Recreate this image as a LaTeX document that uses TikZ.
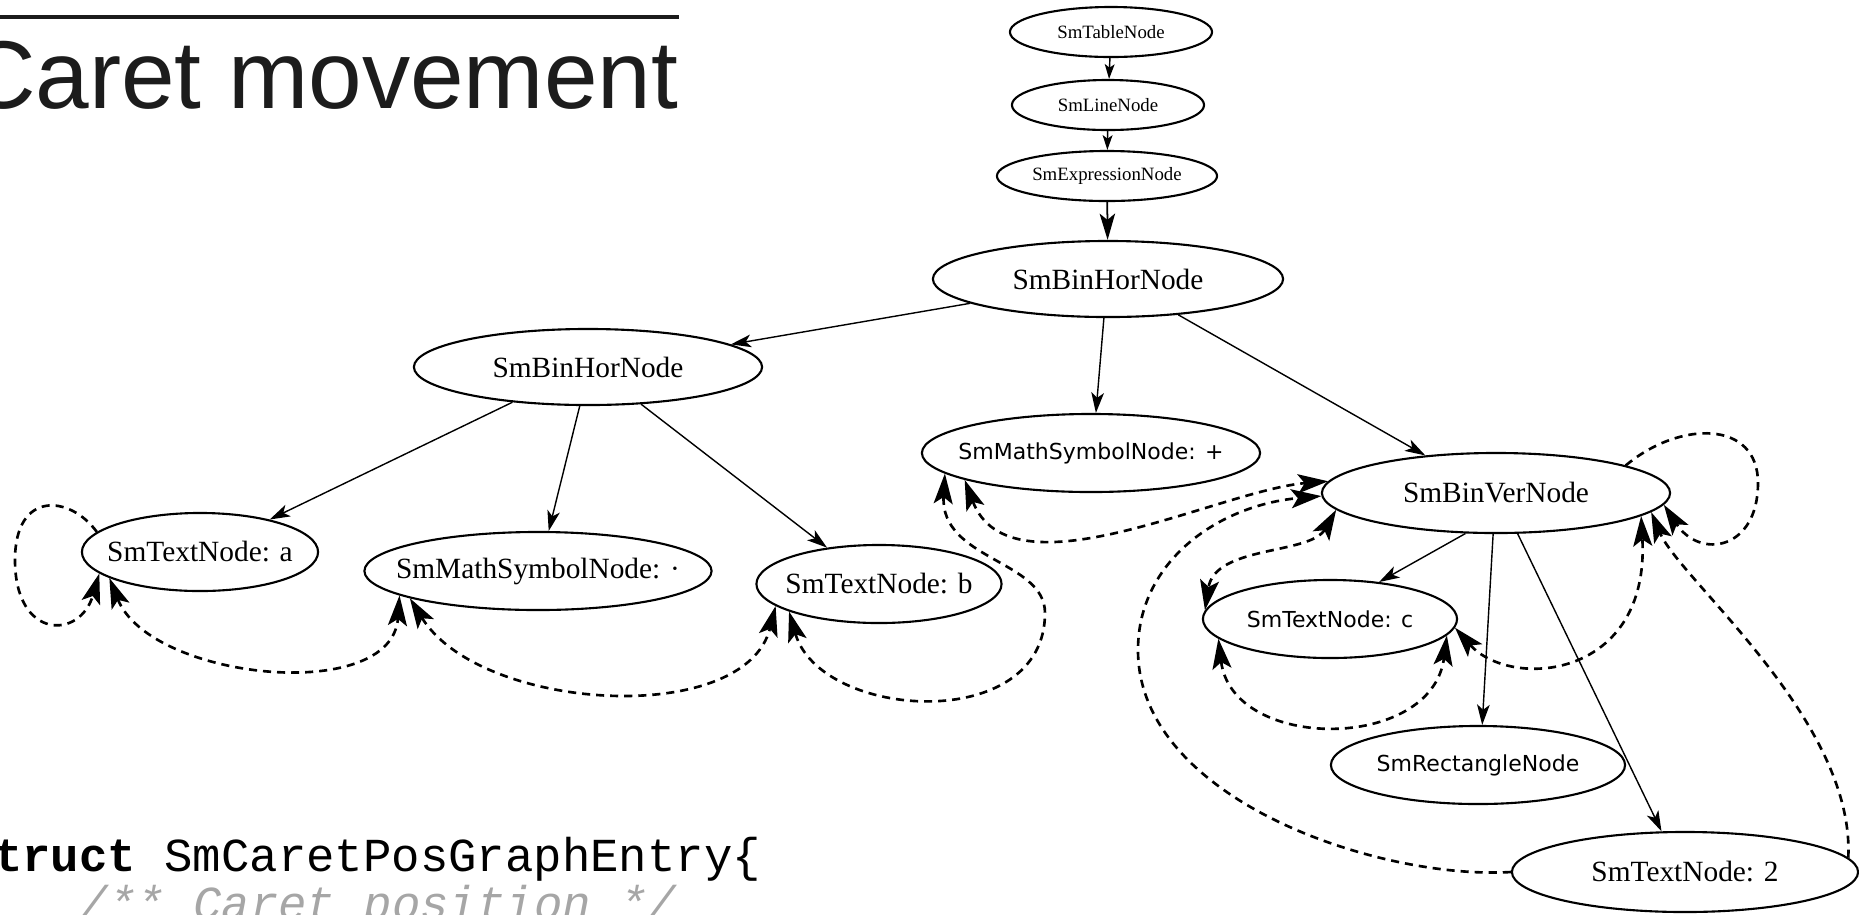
\documentclass[tikz,border=0pt]{standalone}
\usepackage{fontspec}
\setmainfont{Liberation Serif}
\newfontfamily\headfont{Liberation Sans}
\newfontfamily\verafont{DejaVu Sans}
\newfontfamily\monofont{Liberation Mono}
\usetikzlibrary{shapes.geometric, arrows.meta}
\definecolor{headink}{HTML}{1C1C1C}
\definecolor{commentink}{HTML}{A6A6A6}
\newcommand{\gl}[1]{\makebox[0pt]{#1}}

\begin{document}
\begin{tikzpicture}[x=0.01cm, y=-0.01cm,
  gnode/.style={ellipse, draw, line width=0.6pt, inner sep=0pt},
  serifbig/.style={font=\fontsize{8.35}{10}\selectfont},
  seriftiny/.style={font=\fontsize{5.35}{6.5}\selectfont},
  verabox/.style={font=\verafont\fontsize{6.26}{7.5}\selectfont},
  tree/.style={line width=0.4pt, -{Stealth[length=5.8pt, width=3.6pt, inset=1.5pt]}},
  treesmall/.style={line width=0.4pt, -{Stealth[length=4.2pt, width=2.8pt, inset=1pt]}},
  treebig/.style={line width=0.5pt, -{Stealth[length=7.5pt, width=4.4pt, inset=1.8pt]}},
  caret/.style={line width=0.75pt, dash pattern=on 2.3pt off 1.7pt,
    -{Stealth[length=8.6pt, width=5.4pt, inset=1.9pt]}},
  caretboth/.style={caret,
    {Stealth[length=8.6pt, width=5.4pt, inset=1.9pt]}-{Stealth[length=8.6pt, width=5.4pt, inset=1.9pt]}}]

\useasboundingbox (0,0) rectangle (1859,914);

% Title
\draw[headink, line width=1.05pt] (0,17) -- (679,17);
\node[anchor=base east, inner sep=0pt, text=headink,
  font=\headfont\fontsize{27.4}{33}\selectfont] (title) at (679,108) {Caret movement};

% Code
\node[anchor=base west, inner sep=0pt,
  font=\monofont\fontsize{13.46}{16}\selectfont] (code) at (-35,871)
  {\textbf{struct} SmCaretPosGraphEntry\{};
\node[anchor=base west, inner sep=0pt, text=commentink,
  font=\monofont\itshape\fontsize{13.46}{16}\selectfont] (comment) at (79,919)
  {/** Caret position */};

% Nodes
\node[gnode, seriftiny, minimum width=2.02cm, minimum height=0.50cm] (tbl) at (1111,32) {\gl{SmTableNode}};
\node[gnode, seriftiny, minimum width=1.92cm, minimum height=0.50cm] (lin) at (1108,105) {\gl{SmLineNode}};
\node[gnode, seriftiny, minimum width=2.20cm, minimum height=0.50cm] (expr) at (1107,176) {\gl{SmExpressionNode}};
\node[gnode, serifbig, minimum width=3.50cm, minimum height=0.76cm] (hor0) at (1108,279) {\gl{SmBinHorNode}};
\node[gnode, serifbig, minimum width=3.48cm, minimum height=0.76cm] (hor1) at (588,367) {\gl{SmBinHorNode}};
\node[gnode, serifbig, minimum width=2.36cm, minimum height=0.78cm] (ta) at (200,552) {\gl{SmTextNode: a}};
\node[gnode, serifbig, minimum width=3.47cm, minimum height=0.78cm] (dot) at (538,571) {\gl{SmMathSymbolNode: ·}};
\node[gnode, serifbig, minimum width=2.45cm, minimum height=0.78cm] (tb) at (879,584) {\gl{SmTextNode: b}};
\node[gnode, verabox, minimum width=3.38cm, minimum height=0.78cm] (plus) at (1091,453) {\gl{SmMathSymbolNode: +}};
\node[gnode, serifbig, minimum width=3.48cm, minimum height=0.80cm] (ver) at (1496,493) {\gl{SmBinVerNode}};
\node[gnode, verabox, minimum width=2.54cm, minimum height=0.78cm] (tc) at (1330,619) {\gl{SmTextNode: c}};
\node[gnode, verabox, minimum width=2.94cm, minimum height=0.78cm] (rect) at (1478,765) {\gl{SmRectangleNode}};
\node[gnode, serifbig, minimum width=3.46cm, minimum height=0.80cm] (t2) at (1685,872) {\gl{SmTextNode: 2}};

% Tree edges
\draw[treesmall] (tbl) -- (lin);
\draw[treesmall] (lin) -- (expr);
\draw[treebig] (expr) -- (hor0);
\draw[tree] (hor0.190) -- (hor1.9);
\draw[tree] (hor0.264) -- (plus.83);
\draw[tree] (hor0.333) -- (ver.152);
\draw[tree] (hor1.205) -- (ta.25);
\draw[tree] (hor1.258) -- (dot.75);
\draw[tree] (hor1.325) -- (tb.145);
\draw[tree] (ver.233) -- (tc.37);
\draw[tree] (ver.266) -- (rect.84);
\draw[tree] (ver.298) -- (t2.120);

% Caret edges
\draw[caret] (ta.169) .. controls (70,495) and (15,490) .. (15,560)
  .. controls (15,640) and (80,640) .. (ta.192);
\draw[caretboth] (ta.196) .. controls (150,680) and (392,705) .. (dot.190);
\draw[caretboth] (dot.192) .. controls (480,712) and (745,728) .. (tb.192);
\draw[caretboth] (tb.197) .. controls (820,720) and (1045,735) .. (1045,613)
  .. controls (1045,560) and (940,560) .. (plus.188);
\draw[caretboth] (plus.192) .. controls (1010,600) and (1220,490) .. (ver.176);
\draw[caret] (t2.180) .. controls (1380,880) and (1138,800) .. (1138,650)
  .. controls (1138,560) and (1220,505) .. (ver.181);
\draw[caretboth] (ver.186) .. controls (1310,555) and (1215,545) .. (tc.176);
\draw[caretboth] (tc.190) .. controls (1232,752) and (1432,752) .. (tc.352);
\draw[caretboth] (tc.356) .. controls (1510,690) and (1650,680) .. (ver.351);
\draw[caret] (ver.12) .. controls (1680,420) and (1758,420) .. (1758,483)
  .. controls (1758,550) and (1700,560) .. (ver.356);
\draw[caret] (t2.5) .. controls (1855,720) and (1680,580) .. (ver.353);

\end{tikzpicture}
\end{document}
